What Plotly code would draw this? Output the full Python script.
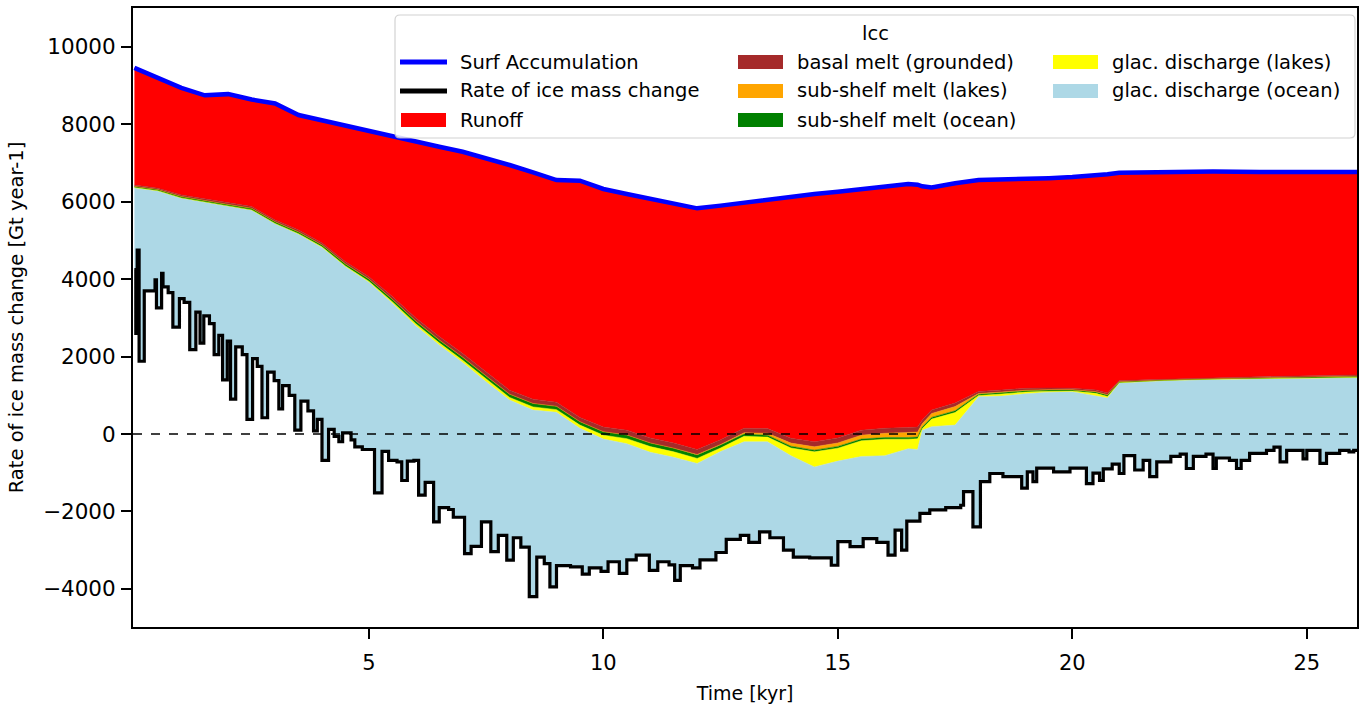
import plotly.graph_objects as go

# ---------------- data ----------------
t_layers = [0, 0.5, 1, 1.5, 2, 2.5, 3, 3.5, 4, 4.5, 5, 5.5, 6, 6.5, 7, 7.5, 8, 8.5, 9, 9.5,
            10, 10.5, 11, 11.5, 12, 12.5, 13, 13.5, 14, 14.5, 15, 15.5, 16, 16.5, 16.7, 16.8,
            17, 17.5, 18, 18.5, 19, 19.5, 20, 20.5, 20.75, 21, 21.5, 22, 23, 24, 25, 26.07]
surf_accumulation = [9460, 9200, 8940, 8750, 8780, 8640, 8540, 8240, 8100, 7960, 7830, 7680, 7545, 7420,
                     7290, 7130, 6950, 6760, 6560, 6545, 6330, 6200, 6080, 5960, 5830, 5900, 5980, 6050,
                     6120, 6200, 6260, 6320, 6400, 6460, 6440, 6400, 6370, 6480, 6560, 6570, 6590, 6610,
                     6640, 6670, 6710, 6750, 6760, 6770, 6780, 6770, 6760, 6770]
runoff = [3030, 2850, 2765, 2670, 2810, 2765, 3010, 2970, 3165, 3510, 3765, 4130, 4545, 4900,
          5210, 5530, 5820, 5860, 5740, 6115, 6150, 6100, 6180, 6195, 6230, 6050, 5830, 5910,
          6230, 6400, 6360, 6220, 6250, 6290, 6260, 6040, 5750, 5680, 5460, 5430, 5410, 5420,
          5455, 5530, 5650, 5370, 5360, 5350, 5330, 5290, 5260, 5245]
basal_melt_grounded = [35, 35, 40, 40, 40, 45, 45, 50, 50, 55, 60, 70, 80, 90, 95, 100, 100, 110, 105, 110,
                       120, 125, 130, 130, 130, 120, 120, 120, 125, 130, 130, 130, 130, 130, 130, 95,
                       90, 90, 55, 55, 50, 45, 40, 45, 45, 30, 25, 20, 20, 25, 25, 30]
subshelf_melt_lakes = [0, 0, 0, 0, 0, 0, 0, 0, 0, 0, 0, 0, 0, 0, 0, 0, 0, 0, 0, 0,
                       0, 0, 0, 5, 10, 15, 30, 50, 80, 86, 90, 100, 110, 130, 130, 85,
                       100, 110, 15, 15, 10, 10, 5, 10, 10, 0, 0, 0, 0, 0, 0, 0]
subshelf_melt_ocean = [30, 30, 35, 40, 40, 40, 45, 45, 50, 55, 60, 65, 70, 75, 80, 85, 85, 90, 85, 90,
                       90, 95, 95, 90, 90, 75, 60, 50, 45, 44, 45, 45, 45, 43, 45, 40,
                       45, 45, 35, 35, 35, 30, 30, 35, 35, 25, 20, 15, 15, 20, 25, 35]
glac_discharge_lakes = [5, 5, 10, 10, 10, 10, 10, 15, 15, 20, 25, 35, 50, 55, 55, 65, 65, 80, 70, 80,
                        100, 130, 145, 140, 130, 90, 140, 120, 200, 390, 335, 405, 425, 247, 275, 40,
                        195, 325, 30, 55, 45, 25, 15, 60, 40, 5, 5, 5, 5, 5, 5, 5]

# rate of ice mass change (step series, includes the discharge spikes)
mc_t = [0.00, 0.03, 0.06, 0.10, 0.21, 0.44, 0.47, 0.58, 0.61, 0.72, 0.82, 0.96, 1.06, 1.18, 1.31,
        1.40, 1.48, 1.60, 1.70, 1.80, 1.88, 1.98, 2.05, 2.16, 2.30, 2.40, 2.52, 2.62, 2.72, 2.84,
        2.98, 3.08, 3.16, 3.30, 3.42, 3.55, 3.70, 3.82, 3.90, 4.00, 4.14, 4.26, 4.36, 4.44, 4.62,
        4.70, 4.86, 5.12, 5.28, 5.42, 5.60, 5.70, 5.82, 5.96, 6.06, 6.20, 6.38, 6.50, 6.70, 6.80,
        7.04, 7.18, 7.40, 7.60, 7.76, 7.94, 8.08, 8.24, 8.42, 8.58, 8.74, 8.86, 9.00, 9.30, 9.55,
        9.70, 9.95, 10.10, 10.34, 10.50, 10.70, 10.98, 11.16, 11.40, 11.52, 11.64, 11.90, 12.06, 12.40, 12.62,
        12.92, 13.10, 13.33, 13.55, 13.84, 14.05, 14.40, 14.86, 15.00, 15.26, 15.54, 15.83, 16.07, 16.22, 16.36,
        16.47, 16.75, 16.96, 17.30, 17.62, 17.68, 17.88, 18.04, 18.24, 18.52, 18.92, 19.04, 19.16, 19.24, 19.60,
        19.95, 20.30, 20.44, 20.58, 20.66, 20.85, 21.00, 21.10, 21.33, 21.51, 21.65, 21.80, 22.10, 22.30, 22.43,
        22.58, 22.85, 23.00, 23.07, 23.35, 23.50, 23.60, 23.78, 24.14, 24.30, 24.43, 24.57, 24.92, 25.00, 25.28,
        25.42, 25.70, 25.90, 26.00, 26.07]
mc_v = [4250, 2600, 4750, 1880, 3700, 3980, 3260, 4150, 3800, 3650, 2760, 3500, 3400, 2180, 3150,
        2350, 3050, 2850, 2050, 2550, 1400, 2400, 900, 2250, 2050, 380, 1950, 1750, 420, 1600,
        1380, 650, 1250, 1000, 100, 850, 600, 80, 380, -680, 120, -60, -200, 30, -150,
        -330, -400, -1520, -450, -680, -720, -1200, -700, -680, -1580, -1250, -2270, -1900, -1950, -2150,
        -3090, -2900, -2270, -3040, -2620, -3260, -2680, -2920, -4200, -3180, -3350, -3950, -3400, -3430, -3620,
        -3460, -3550, -3300, -3600, -3250, -3130, -3520, -3300, -3380, -3780, -3400, -3460, -3250, -3060, -2720,
        -2620, -2800, -2530, -2680, -3000, -3180, -3200, -3390, -2780, -2910, -2700, -2800, -3130, -2480, -3000,
        -2250, -2050, -1960, -1900, -1840, -1490, -2400, -1230, -1020, -1100, -1400, -980, -1230, -880, -980,
        -880, -1280, -1010, -1200, -900, -780, -1020, -560, -930, -680, -1100, -720, -580, -520, -890,
        -580, -520, -890, -620, -680, -890, -680, -500, -420, -340, -720, -420, -640, -420, -760,
        -500, -420, -460, -420, -420]

y_tick_vals = [-4000, -2000, 0, 2000, 4000, 6000, 8000, 10000]
y_tick_text = ["\u22124000", "\u22122000", "0", "2000", "4000", "6000", "8000", "10000"]
x_tick_vals = [5, 10, 15, 20, 25]
x_tick_text = ["5", "10", "15", "20", "25"]

# ---------------- stacking boundaries (top down) ----------------
b_brown_top = [a - r for a, r in zip(surf_accumulation, runoff)]
b_orange_top = [b - x for b, x in zip(b_brown_top, basal_melt_grounded)]
b_green_top = [b - x for b, x in zip(b_orange_top, subshelf_melt_lakes)]
b_yellow_top = [b - x for b, x in zip(b_green_top, subshelf_melt_ocean)]
b_lightblue_top = [b - x for b, x in zip(b_yellow_top, glac_discharge_lakes)]

FONT = "DejaVu Sans"
W, H = 1365, 704
ML, MR, MT, MB = 133, 8, 8, 77
PW, PH = W - ML - MR, H - MT - MB


def px(xp):
    return (xp - ML) / PW


def py(yp):
    return (H - MB - yp) / PH


fig = go.Figure()

# invisible base for the ocean-discharge fill
fig.add_trace(go.Scatter(x=mc_t, y=mc_v, mode="lines", line=dict(width=0, shape="hv", color="black"),
                         showlegend=False, hoverinfo="skip"))

layers = [
    (b_lightblue_top, "#ADD8E6", "glac. discharge (ocean)"),
    (b_yellow_top, "#FFFF00", "glac. discharge (lakes)"),
    (b_green_top, "#008000", "sub-shelf melt (ocean)"),
    (b_orange_top, "#FFA500", "sub-shelf melt (lakes)"),
    (b_brown_top, "#A52A2A", "basal melt (grounded)"),
    (surf_accumulation, "#FF0000", "Runoff"),
]
for yv, col, name in layers:
    fig.add_trace(go.Scatter(x=t_layers, y=yv, mode="lines", fill="tonexty", fillcolor=col,
                             line=dict(width=0.5, color=col), name=name, showlegend=False,
                             hoverinfo="skip"))

fig.add_trace(go.Scatter(x=t_layers, y=surf_accumulation, mode="lines",
                         line=dict(width=4.5, color="#0000FF"), name="Surf Accumulation", showlegend=False))
fig.add_trace(go.Scatter(x=mc_t, y=mc_v, mode="lines",
                         line=dict(width=3.2, color="black", shape="hv"),
                         name="Rate of ice mass change", showlegend=False))

shapes = [dict(type="line", xref="paper", x0=0, x1=1, yref="y", y0=0, y1=0,
               line=dict(color="black", width=1.5, dash="dash"), layer="above")]
annotations = []

# ---------------- legend box (drawn like the reference) ----------------
bx0, bx1, by0, by1, r = 395, 1355, 15, 138, 5
rx, ry = r / PW, r / PH
X0, X1, Y0, Y1 = px(bx0), px(bx1), py(by1), py(by0)
path = (f"M{X0+rx},{Y0} L{X1-rx},{Y0} Q{X1},{Y0} {X1},{Y0+ry} L{X1},{Y1-ry} Q{X1},{Y1} {X1-rx},{Y1} "
        f"L{X0+rx},{Y1} Q{X0},{Y1} {X0},{Y1-ry} L{X0},{Y0+ry} Q{X0},{Y0} {X0+rx},{Y0} Z")
shapes.append(dict(type="path", xref="paper", yref="paper", path=path, fillcolor="white",
                   opacity=0.85, line=dict(color="#CCCCCC", width=1.2), layer="above"))
annotations.append(dict(text="lcc", xref="paper", yref="paper", x=px(875), y=py(33), showarrow=False,
                        xanchor="center", yanchor="middle", font=dict(family=FONT, size=19.5, color="black")))

legend_entries = [
    ("Surf Accumulation", "#0000FF", "line", 400, 62),
    ("Rate of ice mass change", "black", "line", 400, 91),
    ("Runoff", "#FF0000", "patch", 400, 120),
    ("basal melt (grounded)", "#A52A2A", "patch", 737, 62),
    ("sub-shelf melt (lakes)", "#FFA500", "patch", 737, 91),
    ("sub-shelf melt (ocean)", "#008000", "patch", 737, 120),
    ("glac. discharge (lakes)", "#FFFF00", "patch", 1052, 62),
    ("glac. discharge (ocean)", "#ADD8E6", "patch", 1052, 91),
]
for name, col, kind, xs, yc in legend_entries:
    if kind == "line":
        shapes.append(dict(type="line", xref="paper", yref="paper", x0=px(xs), x1=px(xs + 47),
                           y0=py(yc), y1=py(yc), line=dict(color=col, width=5), layer="above"))
    else:
        shapes.append(dict(type="rect", xref="paper", yref="paper", x0=px(xs + 1), x1=px(xs + 46),
                           y0=py(yc + 7), y1=py(yc - 7), fillcolor=col, line=dict(width=0), layer="above"))
    annotations.append(dict(text=name, xref="paper", yref="paper", x=px(xs + 58), y=py(yc),
                            showarrow=False, xanchor="left", yanchor="middle",
                            font=dict(family=FONT, size=19.5, color="black")))

fig.update_layout(
    width=W, height=H,
    margin=dict(l=ML, r=MR, t=MT, b=MB, autoexpand=False),
    paper_bgcolor="white", plot_bgcolor="white",
    font=dict(family=FONT, color="black", size=19),
    showlegend=False,
    shapes=shapes, annotations=annotations,
    xaxis=dict(
        range=[-0.03, 26.07], tickvals=x_tick_vals, ticktext=x_tick_text, automargin=False,
        showgrid=False, zeroline=False, showline=True, mirror=True, linecolor="black", linewidth=2,
        ticks="outside", ticklen=10, tickwidth=1.5, tickcolor="black",
        tickfont=dict(family=FONT, size=21), ticklabelstandoff=6,
        title=dict(text="Time [kyr]", font=dict(family=FONT, size=19), standoff=13),
    ),
    yaxis=dict(
        range=[-4985, 11005], tickvals=y_tick_vals, ticktext=y_tick_text, automargin=False,
        showgrid=False, zeroline=False, showline=True, mirror=True, linecolor="black", linewidth=2,
        ticks="outside", ticklen=10, tickwidth=1.5, tickcolor="black",
        tickfont=dict(family=FONT, size=21.5), ticklabelstandoff=1,
        title=dict(text="Rate of ice mass change [Gt year-1]", font=dict(family=FONT, size=19.5), standoff=14),
    ),
)

fig.write_html("out.html", config={"displayModeBar": False},
               post_script="document.body.style.margin='0px';")
